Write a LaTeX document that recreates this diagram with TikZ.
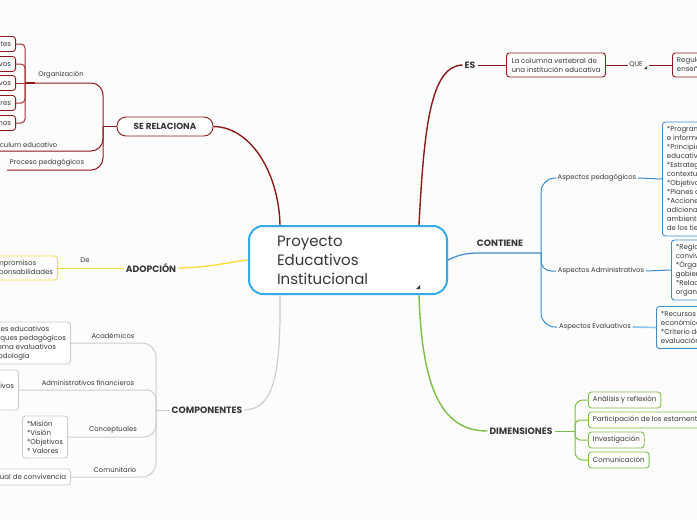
\documentclass[tikz,border=0pt]{standalone}
\usepackage{fontspec}
\setmainfont{Poppins}
\definecolor{bg}{RGB}{252,252,252}
\definecolor{txt}{RGB}{55,55,55}
\definecolor{dred}{RGB}{140,26,26}
\definecolor{lred}{RGB}{160,50,50}
\definecolor{yel}{RGB}{245,222,60}
\definecolor{cblue}{RGB}{52,170,230}
\definecolor{bblue}{RGB}{60,140,205}
\definecolor{lblue}{RGB}{140,200,235}
\definecolor{gry}{RGB}{205,205,205}
\definecolor{grn}{RGB}{125,190,70}
\begin{document}
\begin{tikzpicture}[x=1pt,y=-1pt,
  every node/.style={text=txt},
  lbl/.style={font=\fontsize{6.8}{9}\selectfont, inner sep=1.5pt},
  blbl/.style={font=\fontsize{9.2}{11}\selectfont\bfseries, inner sep=2pt},
  boxbase/.style={rounded corners=3pt, line width=0.9pt, fill=white, align=left,
    font=\fontsize{7}{9}\selectfont, inner xsep=4.5pt, inner ysep=3.5pt},
  redbox/.style={boxbase, draw=dred},
  yelbox/.style={boxbase, draw=yel},
  grybox/.style={boxbase, draw=gry},
  bluebox/.style={boxbase, draw=bblue},
  grnbox/.style={boxbase, draw=grn, minimum height=16pt},
  mainred/.style={draw=dred, line width=1.4pt},
  subred/.style={draw=dred, line width=1pt},
  mainyel/.style={draw=yel, line width=1.4pt},
  subyel/.style={draw=yel, line width=1pt},
  maingry/.style={draw=gry, line width=1.2pt},
  subgry/.style={draw=gry, line width=1pt},
  mainblue/.style={draw=bblue, line width=1.2pt},
  subblue/.style={draw=bblue, line width=1pt},
  maingrn/.style={draw=grn, line width=1.4pt},
  subgrn/.style={draw=grn, line width=1pt}
]
\useasboundingbox[fill=bg] (0,0) rectangle (697,520);

% central node
\node[draw=cblue, line width=2pt, fill=white, rounded corners=14pt,
  minimum width=198pt, minimum height=68pt, text width=142pt, align=left,
  inner xsep=28pt, font=\fontsize{15}{19}\selectfont] (c) at (348,260)
  {\raisebox{-2pt}{Proyecto}\\\raisebox{-2pt}{Educativos}\\\raisebox{-2pt}{Institucional}};
\fill[txt] (416,289) -- (420,289) -- (420,285) -- cycle;

% ES branch
\node[blbl] (es) at (470,65) {ES};
\node[redbox, minimum width=99pt, minimum height=24pt] (col) at (556,65)
  {La columna vertebral de\\una institución educativa};
\node[lbl] (que) at (636,65) {QUE};
\fill[txt] (644,69) -- (647,69) -- (647,66) -- cycle;
\node[redbox, anchor=west, minimum height=24pt] (reg) at (672,65)
  {Regula los procesos de\\enseñanza y aprendizaje};
\draw[mainred] ([xshift=71pt]c.north) .. controls (424,130) and (430,66) .. (es.west);
\draw[subred] (es.east) -- (col.west);
\draw[subred] (col.east) -- (que.west);
\draw[subred] (649,65) -- (reg.west);

% SE RELACIONA branch
\node[redbox, draw=dred, rounded corners=9pt, minimum width=96pt, minimum height=19pt,
  align=center, font=\fontsize{8.8}{10}\selectfont\bfseries] (sr) at (165,126.5) {SE RELACIONA};
\draw[mainred] (sr.east) .. controls (252,127) and (279,175) .. ([xshift=-68pt]c.north);
\coordinate (b1) at (103,126.5);
\coordinate (orgc) at (35,83);
\coordinate (ob) at (25,83);
\coordinate (curc) at (0,151);
\coordinate (proc) at (7,170);
\draw[subred] (sr.west) -- (b1);
\draw[subred, rounded corners=12pt] (b1) |- (orgc);
\draw[subred, rounded corners=12pt] (b1) |- (curc);
\draw[subred, rounded corners=12pt] (b1) |- (proc);
\draw[draw=dred, line width=2pt] (ob) -- (orgc);
\node[lbl] (orgl) at (61,75) {Organización};
\node[lbl, anchor=east] (curl) at (59,145) {Curriculum educativo};
\node[lbl] (procl) at (47,163) {Proceso pedagógicos};
\node[redbox, anchor=east, minimum height=15pt] (o1) at (16,44) {Estudiantes};
\node[redbox, anchor=east, minimum height=15pt] (o2) at (16,64) {Directivos};
\node[redbox, anchor=east, minimum height=15pt] (o3) at (16,83) {Administrativos};
\node[redbox, anchor=east, minimum height=15pt] (o4) at (16,103) {Padres};
\node[redbox, anchor=east, minimum height=15pt] (o5) at (16,123) {Exalumnos};
\draw[draw=lred, line width=1pt, rounded corners=4pt] (o1.east) -| (ob);
\draw[draw=lred, line width=1pt, rounded corners=4pt] (o2.east) -| (ob);
\draw[draw=lred, line width=1pt] (o3.east) -- (ob);
\draw[draw=lred, line width=1pt, rounded corners=4pt] (o4.east) -| (ob);
\draw[draw=lred, line width=1pt, rounded corners=4pt] (o5.east) -| (ob);

% ADOPCION branch
\node[blbl] (ad) at (151,268) {ADOPCIÓN};
\node[yelbox, anchor=east, minimum height=24pt] (adb) at (58,268)
  {Compromisos\\Responsabilidades};
\draw[mainyel] (ad.east) .. controls (215,267) and (228,262) .. (c.west);
\draw[subyel] (ad.west) -- (adb.east);
\node[lbl] (de) at (85,260) {De};

% COMPONENTES branch
\node[blbl] (comp) at (207,410) {COMPONENTES};
\draw[maingry] ([xshift=-68pt]c.south) .. controls (281,380) and (272,409) .. (comp.east);
\coordinate (b3) at (156,410);
\draw[subgry] (comp.west) -- (b3);
\node[grybox, anchor=east, minimum height=42pt] (acad) at (71,343)
  {Planes educativos\\Enfoques pedagógicos\\Sistema evaluativos\\Metodología};
\node[grybox, anchor=east, minimum height=40pt] (admf) at (19,390)
  {*Recursos administrativos\\*Financieros};
\node[grybox, anchor=east, minimum height=42pt] (conc) at (68,437)
  {*Misión\\*Visión\\*Objetivos\\* Valores};
\node[grybox, anchor=east, minimum height=16pt] (comu) at (71,477)
  {Manual de convivencia};
\draw[subgry, rounded corners=14pt] (b3) |- (acad.east);
\draw[subgry, rounded corners=9pt] (b3) |- (admf.east);
\draw[subgry, rounded corners=12pt] (b3) |- (conc.east);
\draw[subgry, rounded corners=14pt] (b3) |- (comu.east);
\node[lbl] (acadl) at (113,336) {Académicos};
\node[lbl] (admfl) at (88,383) {Administrativos financieros};
\node[lbl] (concl) at (113,430) {Conceptuales};
\node[lbl] (comul) at (115,470) {Comunitario};

% CONTIENE branch
\node[blbl] (cont) at (500,243) {CONTIENE};
\coordinate (b4) at (541,253);
\draw[mainblue] (c.east) .. controls (462,253) and (470,253) .. (485,253) -- (b4);
\node[lbl] (ped) at (597,178) {Aspectos pedagógicos};
\node[lbl] (adm) at (601,271) {Aspectos Administrativos};
\node[lbl] (eva) at (595,327) {Aspectos Evaluativos};
\draw[subblue, rounded corners=14pt] (b4) |- (ped.west);
\draw[subblue, rounded corners=10pt] (b4) |- (adm.west);
\draw[subblue, rounded corners=14pt] (b4) |- (eva.west);
\node[bluebox, anchor=west, minimum height=114pt] (pedb) at (662,179)
  {*Programas de formación\\e información\\*Principios y fundamentos\\educativos\\*Estrategias pedagógicas\\contextualizadas\\*Objetivos\\*Planes de estudio\\*Acciones pedagógicas\\adicionales en\\ambientes\\de los tiempos};
\node[bluebox, anchor=west, minimum height=60pt] (admb) at (671,270)
  {*Reglamento de\\convivencia\\*Órganos de\\gobierno\\*Relaciones\\organizacionales};
\node[bluebox, anchor=west, minimum height=42pt] (evab) at (656,327.5)
  {*Recursos\\económicos\\*Criterio de\\evaluación};
\draw[subblue] (ped.east) -- (pedb.west);
\draw[subblue] (adm.east) -- (admb.west);
\draw[draw=lblue, line width=1.6pt] (eva.east) -- (evab.west);

% DIMENSIONES branch
\node[blbl] (dim) at (521,431) {DIMENSIONES};
\draw[maingrn] ([xshift=71pt]c.south) .. controls (422,395) and (445,431) .. (dim.west);
\coordinate (b5) at (575,431);
\draw[subgrn] (dim.east) -- (b5);
\node[grnbox, anchor=west] (d1) at (588,400) {Análisis y reflexión};
\node[grnbox, anchor=west] (d2) at (588,420) {Participación de los estamentos};
\node[grnbox, anchor=west] (d3) at (588,440) {Investigación};
\node[grnbox, anchor=west] (d4) at (588,460) {Comunicación};
\draw[subgrn, rounded corners=8pt] (b5) |- (d1.west);
\draw[subgrn, rounded corners=5pt] (b5) |- (d2.west);
\draw[subgrn, rounded corners=5pt] (b5) |- (d3.west);
\draw[subgrn, rounded corners=8pt] (b5) |- (d4.west);
\end{tikzpicture}
\end{document}
